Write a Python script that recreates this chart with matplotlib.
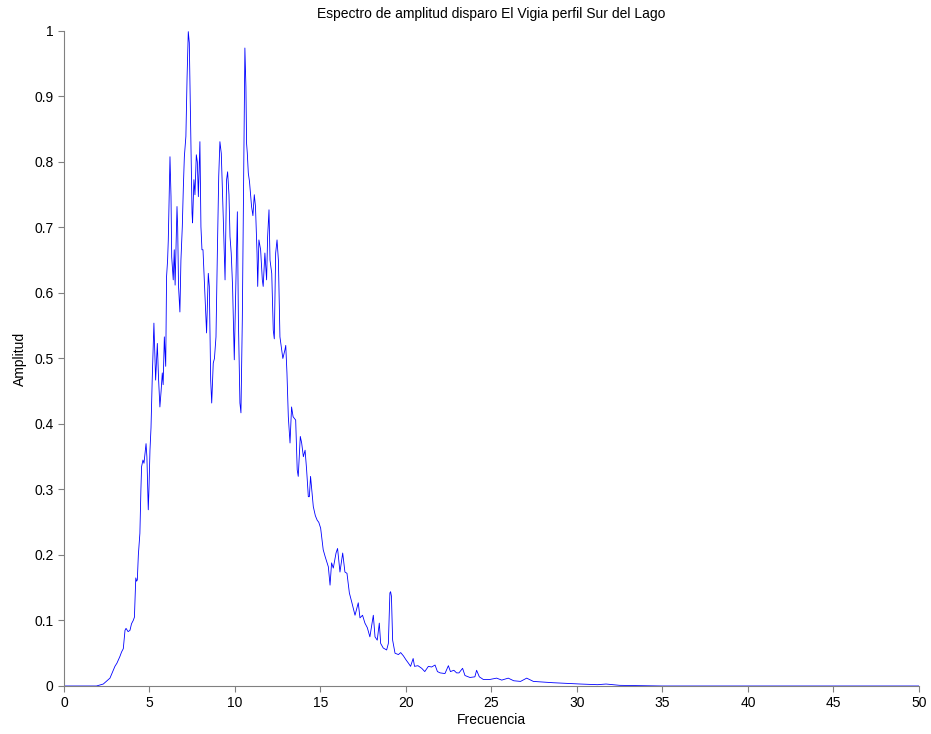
import matplotlib
matplotlib.use("Agg")
import matplotlib.pyplot as plt

# amplitude spectrum
freq = [0, 1.9, 2.3, 2.69, 2.98, 3.1, 3.27, 3.37, 3.47, 3.57, 3.63, 3.75, 3.86,
        3.95, 4.05, 4.12, 4.2, 4.25, 4.29, 4.35, 4.44, 4.5, 4.54, 4.62, 4.68,
        4.74, 4.8, 4.85, 4.93, 4.97, 5.03, 5.09, 5.16, 5.26, 5.31, 5.36, 5.46,
        5.53, 5.61, 5.68, 5.75, 5.8, 5.87, 5.95, 6.0, 6.06, 6.1, 6.2, 6.26,
        6.3, 6.39, 6.45, 6.5, 6.61, 6.65, 6.7, 6.78, 6.84, 6.92, 6.98, 7.04,
        7.13, 7.2, 7.27, 7.33, 7.41, 7.49, 7.52, 7.6, 7.66, 7.74, 7.8, 7.86,
        7.95, 8.01, 8.07, 8.13, 8.25, 8.34, 8.44, 8.5, 8.58, 8.64, 8.73, 8.8,
        8.89, 8.97, 9.05, 9.12, 9.2, 9.32, 9.42, 9.51, 9.57, 9.65, 9.71, 9.78,
        9.86, 9.96, 10.05, 10.14, 10.2, 10.29, 10.35, 10.43, 10.5, 10.55,
        10.58, 10.64, 10.68, 10.72, 10.78, 10.85, 10.97, 11.05, 11.13, 11.2,
        11.29, 11.33, 11.4, 11.5, 11.6, 11.65, 11.75, 11.85, 11.91, 11.99,
        12.05, 12.15, 12.24, 12.3, 12.38, 12.46, 12.54, 12.63, 12.73, 12.8,
        12.92, 12.97, 13.04, 13.12, 13.22, 13.31, 13.4, 13.55, 13.64, 13.7,
        13.82, 13.9, 14.0, 14.1, 14.19, 14.29, 14.35, 14.42, 14.58, 14.7,
        14.81, 14.9, 15.01, 15.16, 15.28, 15.46, 15.56, 15.65, 15.75, 15.91,
        16.0, 16.14, 16.3, 16.43, 16.55, 16.69, 16.82, 17.02, 17.21, 17.31,
        17.46, 17.6, 17.74, 17.89, 18.09, 18.19, 18.32, 18.44, 18.52, 18.67,
        18.87, 18.97, 19.06, 19.1, 19.15, 19.22, 19.36, 19.56, 19.69, 19.85,
        20.0, 20.14, 20.27, 20.42, 20.5, 20.7, 20.92, 21.1, 21.31, 21.5, 21.7,
        21.84, 22.0, 22.28, 22.48, 22.6, 22.8, 22.96, 23.1, 23.31, 23.45,
        23.74, 24.03, 24.13, 24.29, 24.52, 24.91, 25.3, 25.6, 25.98, 26.3,
        26.7, 27.06, 27.45, 28.0, 28.6, 29.4, 30.2, 31.2, 31.7, 32.1, 32.5,
        35, 50]
amp = [0, 0, 0.003, 0.012, 0.03, 0.035, 0.045, 0.052, 0.057, 0.085, 0.088,
       0.083, 0.085, 0.095, 0.1, 0.105, 0.165, 0.16, 0.162, 0.2, 0.233, 0.3,
       0.335, 0.345, 0.34, 0.355, 0.37, 0.35, 0.269, 0.3, 0.36, 0.394, 0.467,
       0.554, 0.51, 0.467, 0.523, 0.47, 0.426, 0.45, 0.478, 0.46, 0.533,
       0.488, 0.625, 0.65, 0.68, 0.808, 0.747, 0.655, 0.62, 0.666, 0.612,
       0.732, 0.7, 0.61, 0.571, 0.65, 0.701, 0.76, 0.808, 0.839, 0.93, 0.999,
       0.982, 0.854, 0.722, 0.707, 0.773, 0.75, 0.811, 0.8, 0.747, 0.831,
       0.701, 0.666, 0.666, 0.594, 0.539, 0.63, 0.61, 0.467, 0.432, 0.493,
       0.5, 0.533, 0.661, 0.778, 0.831, 0.813, 0.711, 0.62, 0.773, 0.785,
       0.75, 0.686, 0.661, 0.61, 0.498, 0.61, 0.724, 0.56, 0.432, 0.417,
       0.56, 0.76, 0.915, 0.974, 0.915, 0.828, 0.814, 0.783, 0.77, 0.732,
       0.718, 0.75, 0.732, 0.661, 0.61, 0.681, 0.666, 0.62, 0.61, 0.661,
       0.62, 0.686, 0.727, 0.65, 0.63, 0.543, 0.53, 0.661, 0.681, 0.65,
       0.533, 0.513, 0.5, 0.513, 0.52, 0.478, 0.411, 0.371, 0.426, 0.411,
       0.406, 0.33, 0.32, 0.381, 0.371, 0.35, 0.36, 0.33, 0.289, 0.289, 0.32,
       0.274, 0.26, 0.253, 0.25, 0.241, 0.208, 0.197, 0.182, 0.154, 0.188,
       0.18, 0.203, 0.21, 0.174, 0.203, 0.174, 0.172, 0.142, 0.129, 0.108,
       0.127, 0.104, 0.108, 0.096, 0.089, 0.075, 0.108, 0.075, 0.07, 0.096,
       0.065, 0.058, 0.055, 0.065, 0.142, 0.144, 0.137, 0.07, 0.05, 0.048,
       0.051, 0.046, 0.04, 0.035, 0.03, 0.042, 0.03, 0.031, 0.027, 0.022,
       0.03, 0.029, 0.032, 0.022, 0.02, 0.019, 0.031, 0.022, 0.024, 0.02,
       0.02, 0.027, 0.016, 0.013, 0.014, 0.024, 0.014, 0.01, 0.01, 0.012,
       0.009, 0.012, 0.008, 0.007, 0.012, 0.007, 0.006, 0.005, 0.004, 0.003,
       0.002, 0.003, 0.002, 0.001, 0, 0]

xticks = list(range(0, 51, 5))
yticks = [0, 0.1, 0.2, 0.3, 0.4, 0.5, 0.6, 0.7, 0.8, 0.9, 1]
ylabels = ["0", "0.1", "0.2", "0.3", "0.4", "0.5", "0.6", "0.7", "0.8", "0.9", "1"]

plt.rcParams['font.family'] = ['Liberation Sans', 'DejaVu Sans']

fig = plt.figure(figsize=(9.31, 7.34), dpi=100)
ax = fig.add_axes([0.0687, 0.0654, 0.9184, 0.8924])
ax.plot(freq, amp, color='#0000ff', linewidth=0.6)

ax.set_xlim(0, 50)
ax.set_ylim(0, 1)
ax.set_xticks(xticks)
ax.set_yticks(yticks)
ax.set_yticklabels(ylabels)
for side in ['top', 'right']:
    ax.spines[side].set_visible(False)
for side in ['left', 'bottom']:
    ax.spines[side].set_color('#808080')
ax.tick_params(direction='out', length=4, color='#808080', labelsize=10,
               labelcolor='black')

ax.set_title("Espectro de amplitud disparo El Vigia perfil Sur del Lago",
             fontsize=10, pad=9)
ax.set_xlabel("Frecuencia", fontsize=10, labelpad=2)
ax.set_ylabel("Amplitud", fontsize=10, labelpad=5)

fig.savefig("out.png", dpi=100)
